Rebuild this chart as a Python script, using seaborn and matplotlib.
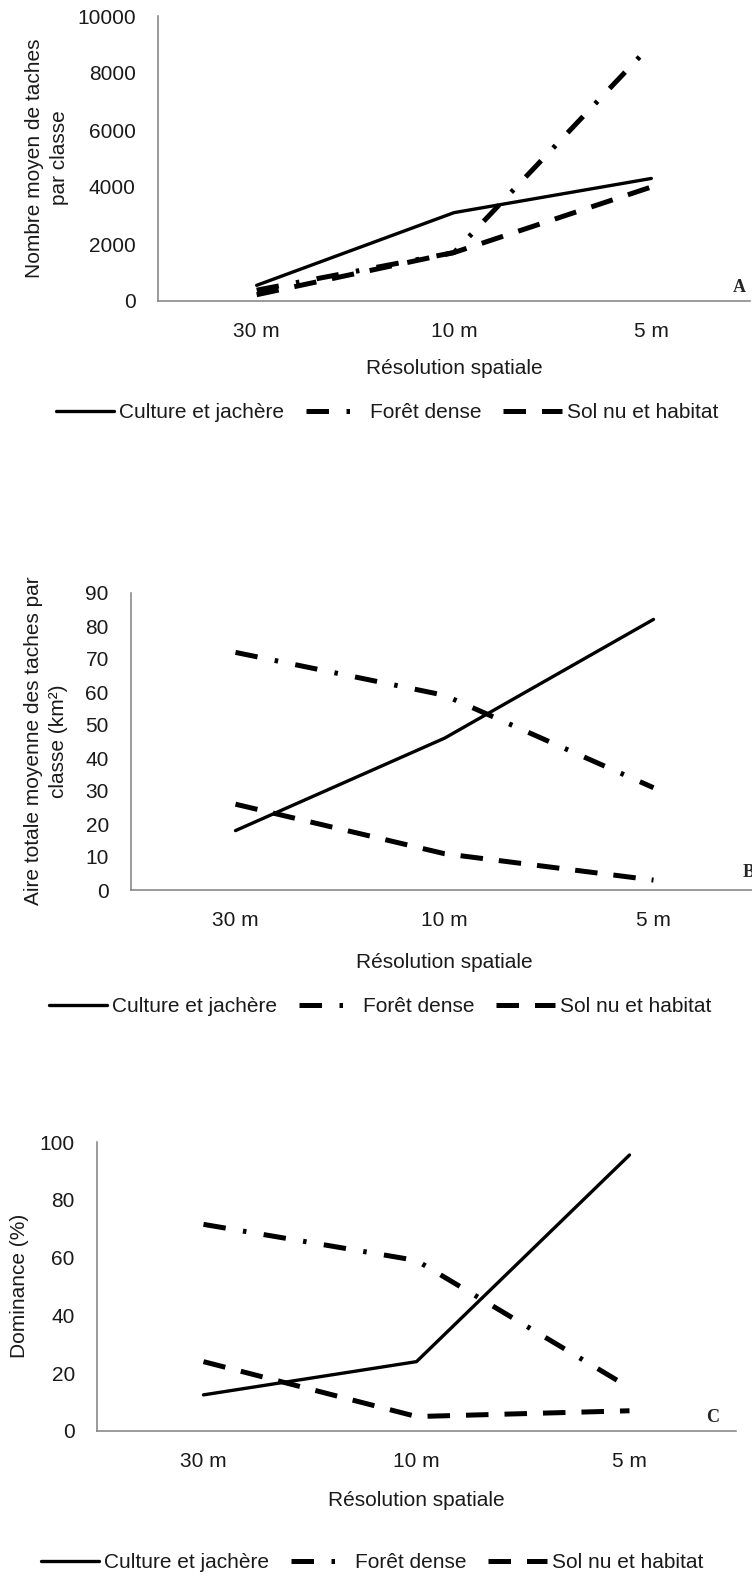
import pandas as pd
import matplotlib.pyplot as plt
import seaborn as sns

# data
resolutions = ['30 m', '10 m', '5 m']
classes = ['Culture et jachère', 'Forêt dense', 'Sol nu et habitat']

# A - nombre moyen de taches par classe
nb_culture = [550, 3100, 4300]
nb_foret = [380, 1700, 9000]
nb_sol = [220, 1700, 4000]

# B - aire totale moyenne des taches (km²)
aire_culture = [18, 46, 82]
aire_foret = [72, 59, 31]
aire_sol = [26, 11, 3]

# C - dominance (%)
dom_culture = [12.5, 24, 95.5]
dom_foret = [71.5, 59, 15]
dom_sol = [24, 5, 7]


def long_df(c, f, s):
    rows = []
    for cl, vals in zip(classes, [c, f, s]):
        for r, v in zip(resolutions, vals):
            rows.append({'res': r, 'classe': cl, 'val': v})
    return pd.DataFrame(rows)


sns.set_style('white')
plt.rcParams['font.family'] = ['Liberation Sans', 'DejaVu Sans']
fs = 15

W, H = 752, 1580
gray = '#808080'
txt = '#1a1a1a'
dash_map = {'Culture et jachère': '', 'Forêt dense': (4.5, 3.5, 0.7, 3.5), 'Sol nu et habitat': (4.5, 3.2)}

panels = [
    dict(df=long_df(nb_culture, nb_foret, nb_sol), ymax=10000, yticks=range(0, 10001, 2000),
         ylabel='Nombre moyen de taches\npar classe', box=(158, 750, 16, 301),
         ylab_xy=(47, 158), xlab_y=368, leg_xy=(387, 413), letter='A', let_xy=(733, 287)),
    dict(df=long_df(aire_culture, aire_foret, aire_sol), ymax=90, yticks=range(0, 91, 10),
         ylabel='Aire totale moyenne des taches par\nclasse (km²)', box=(131, 758, 593, 890),
         ylab_xy=(46, 741), xlab_y=962, leg_xy=(380, 1007), letter='B', let_xy=(743, 873)),
    dict(df=long_df(dom_culture, dom_foret, dom_sol), ymax=100, yticks=range(0, 101, 20),
         ylabel='Dominance (%)', box=(97, 736, 1142, 1431),
         ylab_xy=(20, 1286), xlab_y=1500, leg_xy=(372, 1563), letter='C', let_xy=(706, 1417)),
]

fig = plt.figure(figsize=(W / 100, H / 100), dpi=100)

for p in panels:
    l, r, t, b = p['box']
    ax = fig.add_axes([l / W, 1 - b / H, (r - l) / W, (b - t) / H])
    sns.lineplot(data=p['df'], x='res', y='val', style='classe', style_order=classes,
                 dashes=dash_map, color='black', linewidth=3.6, legend=False, ax=ax)
    for line in ax.get_lines():
        line.set_dash_capstyle('butt')
        if line.get_linestyle() == '-':
            line.set_linewidth(2.4)

    ax.set_xlim(-0.5, 2.5)
    ax.set_ylim(0, p['ymax'])
    ax.set_xticks([0, 1, 2], resolutions)
    ax.set_xticks([-0.5, 0.5, 1.5, 2.5], minor=True)
    ax.set_yticks(list(p['yticks']))
    ax.tick_params(axis='x', which='major', length=0, pad=15, labelsize=fs, labelcolor=txt)
    ax.tick_params(axis='x', which='minor', length=7, width=1.1, color=gray, direction='out')
    ax.tick_params(axis='y', length=6, width=1.1, color=gray, pad=10, labelsize=fs,
                   labelcolor=txt, direction='out')
    ax.set_xlabel('')
    ax.set_ylabel('')
    for s in ['top', 'right']:
        ax.spines[s].set_visible(False)
    for s in ['left', 'bottom']:
        ax.spines[s].set_color(gray)
        ax.spines[s].set_linewidth(1.1)

    fig.text(p['ylab_xy'][0] / W, 1 - p['ylab_xy'][1] / H, p['ylabel'], rotation=90,
             ha='center', va='center', multialignment='center', linespacing=1.45,
             fontsize=fs, color=txt)
    fig.text(((l + r) / 2) / W, 1 - p['xlab_y'] / H, 'Résolution spatiale',
             ha='center', va='center', fontsize=fs, color=txt)
    fig.text(p['let_xy'][0] / W, 1 - p['let_xy'][1] / H, p['letter'], ha='left', va='center',
             fontsize=13, fontweight='bold', family=['Liberation Serif', 'DejaVu Serif'])

    handles = sorted(ax.get_lines(), key=lambda ln: 0 if ln.get_linestyle() == '-' else 1)
    fig.legend(handles[:3], classes, loc='center', ncol=3, frameon=False,
               bbox_to_anchor=(p['leg_xy'][0] / W, 1 - p['leg_xy'][1] / H),
               fontsize=fs, labelcolor=txt, handlelength=2.8, handletextpad=0.25,
               columnspacing=1.05)

plt.savefig('out.png', dpi=100)
